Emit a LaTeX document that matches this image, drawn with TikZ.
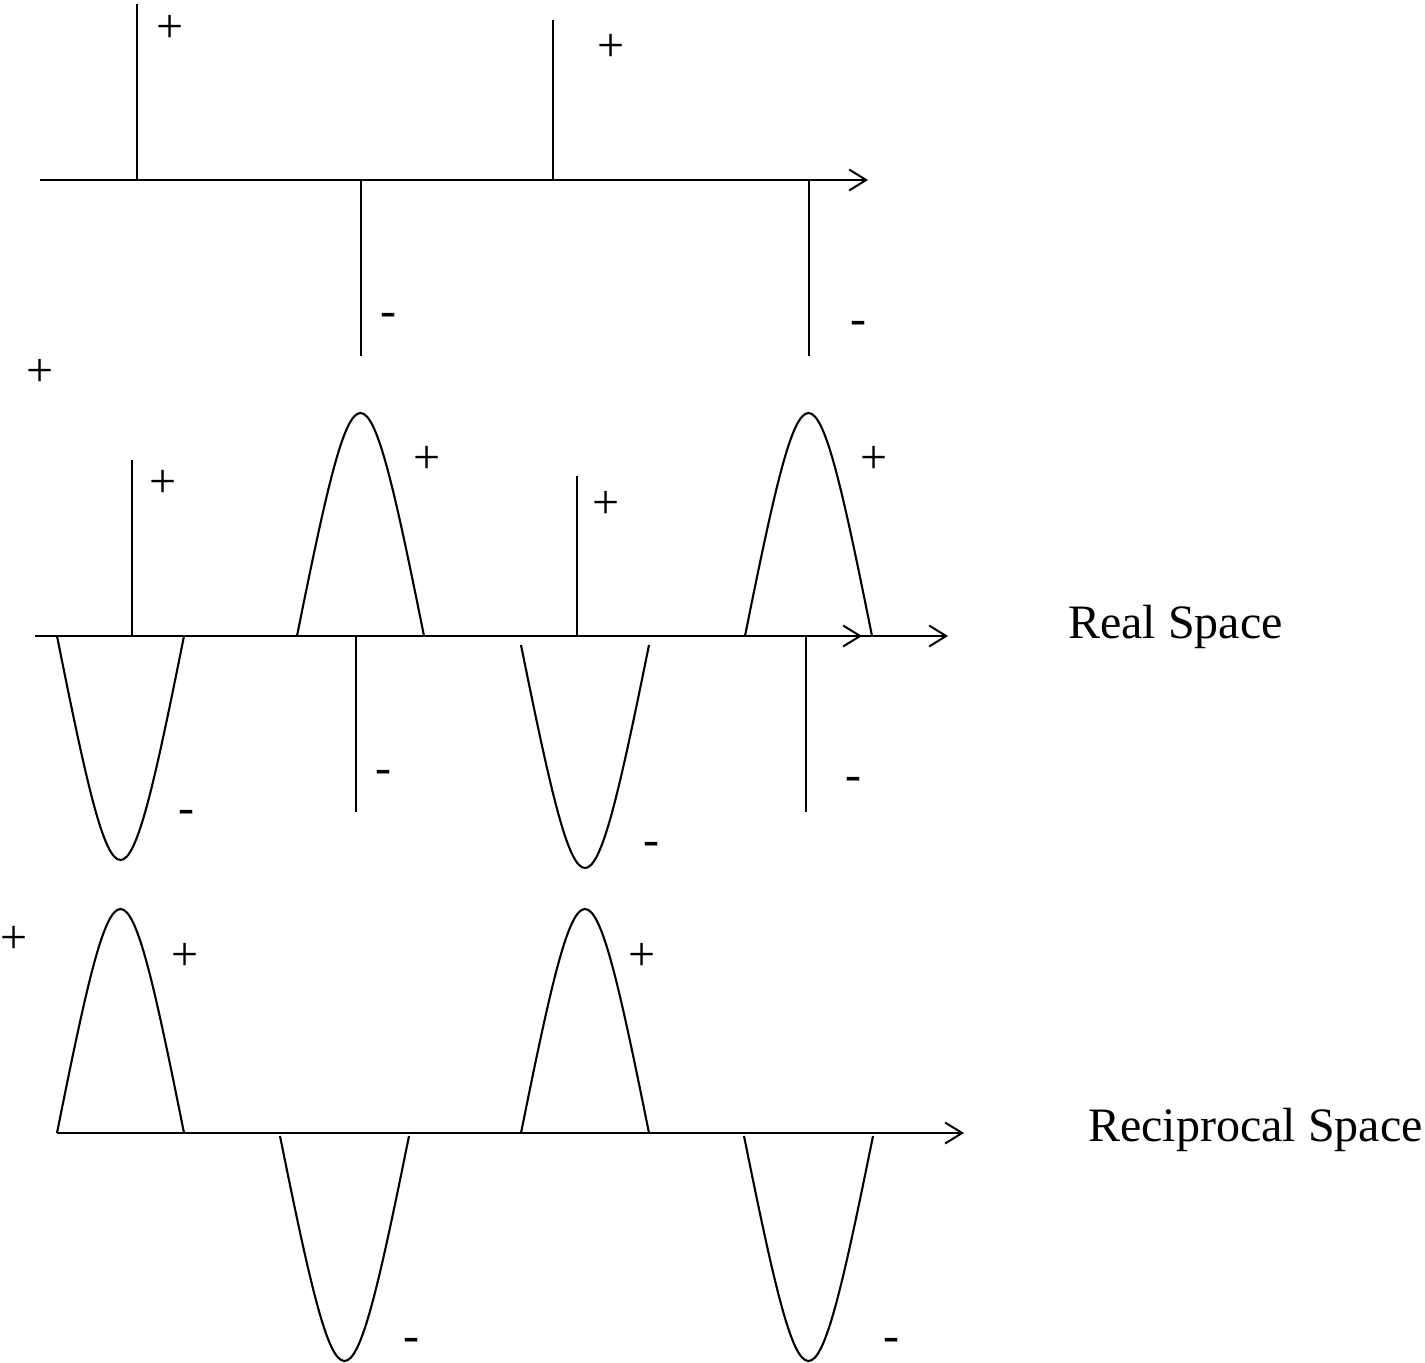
\documentclass[tikz,border=0pt]{standalone}
\usepackage{fontspec}
\setmainfont{Liberation Serif}
\usetikzlibrary{arrows.meta}
\newcommand\mhump[5]{% name, x0, x1, ybase, ypeak
  \coordinate (#1a) at (#2,#4);
  \coordinate (#1b) at (#3,#4);
  \draw[ln] (#1a) .. controls ({#2+0.47*(#3-#2)},{#4+1.3333*(#5-#4)}) and ({#2+0.53*(#3-#2)},{#4+1.3333*(#5-#4)}) .. (#1b);}
\begin{document}
\begin{tikzpicture}[x=1pt,y=-1pt,
  ln/.style={line width=2.1pt},
  ax/.style={line width=2.3pt,-{Straight Barb[length=17pt,width=21pt,line width=2pt]}},
  pl/.style={inner sep=0pt,anchor=base,font=\fontsize{48}{56}\selectfont,yshift=-16pt},
  mi/.style={inner sep=0pt,anchor=base,font=\fontsize{48}{56}\selectfont,yshift=-13pt},
  lbl/.style={inner sep=0pt,anchor=base west,font=\fontsize{48}{56}\selectfont}]
\useasboundingbox (0,0) rectangle (1425,1363);
% ---------- top: real-space delta spikes ----------
\coordinate (t0) at (40,180);
\coordinate (t1) at (868,180);
\draw[ax] (t0) -- (t1);
\draw[ln] (137,4) coordinate (ts1a) -- (137,180) coordinate (ts1b);
\draw[ln] (361,180) coordinate (ts2a) -- (361,356) coordinate (ts2b);
\draw[ln] (553,20) coordinate (ts3a) -- (553,180) coordinate (ts3b);
\draw[ln] (809,180) coordinate (ts4a) -- (809,356) coordinate (ts4b);
\node[pl] (tp1) at (170,26) {+};
\node[mi] (tm1) at (388,313) {-};
\node[pl] (tp2) at (611,45) {+};
\node[mi] (tm2) at (858,321) {-};
\node[pl] (tp3) at (40,370) {+};
% ---------- middle: overlay ----------
\coordinate (m0) at (35,636);
\coordinate (m1) at (862,636);
\coordinate (m2) at (57,636);
\coordinate (m3) at (948,636);
\draw[ax] (m0) -- (m1);
\draw[ax] (m2) -- (m3);
\draw[ln] (132,460) coordinate (ms1a) -- (132,636) coordinate (ms1b);
\draw[ln] (356,636) coordinate (ms2a) -- (356,812) coordinate (ms2b);
\draw[ln] (577,476) coordinate (ms3a) -- (577,636) coordinate (ms3b);
\draw[ln] (806,636) coordinate (ms4a) -- (806,812) coordinate (ms4b);
\mhump{mu1}{297}{424}{636}{413}
\mhump{mu2}{745}{872}{636}{413}
\mhump{md1}{57}{184}{636}{860}
\mhump{md2}{521}{649}{645}{868}
\node[pl] (mp1) at (163,481) {+};
\node[mi] (mm1) at (383,770) {-};
\node[pl] (mp2) at (606,502) {+};
\node[mi] (mm2) at (853,777) {-};
\node[pl] (mp3) at (427,457) {+};
\node[pl] (mp4) at (874,457) {+};
\node[mi] (mm3) at (186,810) {-};
\node[mi] (mm4) at (651,842) {-};
\node[lbl] (real) at (1068,638) {Real Space};
% ---------- bottom: reciprocal space ----------
\coordinate (b0) at (57,1133);
\coordinate (b1) at (964,1133);
\draw[ax] (b0) -- (b1);
\mhump{bu1}{57}{184}{1133}{909}
\mhump{bu2}{521}{649}{1133}{909}
\mhump{bd1}{280}{409}{1136}{1361}
\mhump{bd2}{744}{873}{1136}{1361}
\node[pl] (bp1) at (14,937) {+};
\node[pl] (bp2) at (185,954) {+};
\node[pl] (bp3) at (642,954) {+};
\node[mi] (bm1) at (411,1338) {-};
\node[mi] (bm2) at (891,1338) {-};
\node[lbl] (recip) at (1088,1141) {Reciprocal Space};
\end{tikzpicture}
\end{document}
